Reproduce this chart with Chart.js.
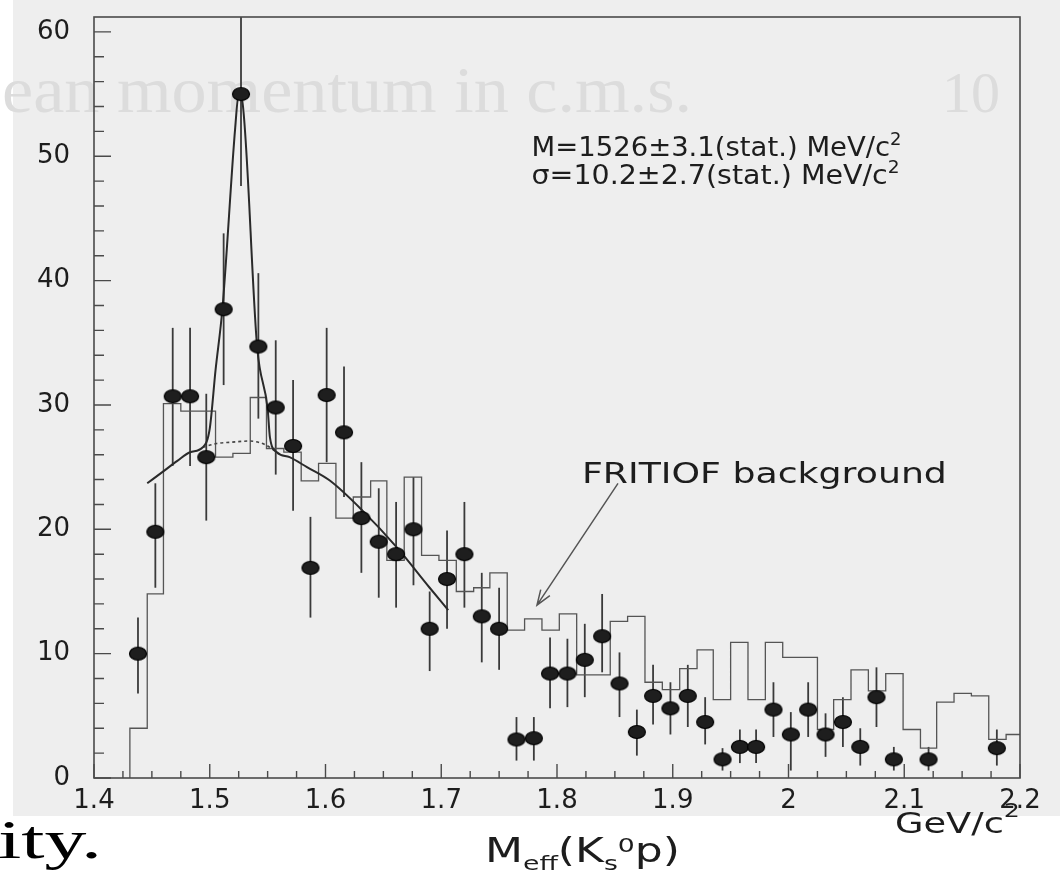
<!DOCTYPE html>
<html>
<head>
<meta charset="utf-8">
<title>M_eff(K0s p) spectrum</title>
<script src="https://cdn.jsdelivr.net/npm/chart.js@4.4.1/dist/chart.umd.min.js"></script>
<style>
  html, body { margin: 0; padding: 0; background: #fff; }
  #chart { display: block; }
</style>
</head>
<body>
<canvas id="chart" width="1063" height="871"></canvas>
<script>
// Measured spectrum: bin centres (GeV/c^2), counts, and error bar ends.
const massBins = [
  1.438, 1.453, 1.468, 1.483, 1.497, 1.512, 1.527, 1.542, 1.557, 1.572,
  1.587, 1.601, 1.616, 1.631, 1.646, 1.661, 1.676, 1.690, 1.705, 1.720,
  1.735, 1.750, 1.765, 1.780, 1.794, 1.809, 1.824, 1.839, 1.854, 1.869,
  1.883, 1.898, 1.913, 1.928, 1.943, 1.958, 1.972, 1.987, 2.002, 2.017,
  2.032, 2.047, 2.062, 2.076, 2.091, 2.121, 2.180
];
const counts = [
  10, 19.8, 30.7, 30.7, 25.8, 37.7, 55, 34.7, 29.8, 26.7,
  16.9, 30.8, 27.8, 20.9, 19.0, 18.0, 20.0, 12.0, 16.0, 18.0,
  13.0, 12.0, 3.1, 3.2, 8.4, 8.4, 9.5, 11.4, 7.6, 3.7,
  6.6, 5.6, 6.6, 4.5, 1.5, 2.5, 2.5, 5.5, 3.5, 5.5,
  3.5, 4.5, 2.5, 6.5, 1.5, 1.5, 2.4
];
const errHigh = [
  12.9, 23.7, 36.2, 36.2, 30.9, 43.8, 62.5, 40.6, 35.2, 32.0,
  21.0, 36.2, 33.1, 25.4, 23.3, 22.2, 24.2, 15.0, 19.9, 22.2,
  16.5, 15.3, 4.9, 4.9, 11.3, 11.2, 12.4, 14.8, 10.1, 5.5,
  9.1, 7.7, 9.1, 6.5, 2.4, 3.9, 3.9, 7.7, 5.3, 7.7,
  5.2, 6.5, 4.0, 8.9, 2.5, 2.5, 3.9
];
const errLow = [
  6.8, 15.3, 25.1, 25.1, 20.7, 31.6, 47.6, 28.9, 24.4, 21.5,
  12.9, 25.4, 22.6, 16.5, 14.5, 13.7, 15.5, 8.6, 12.0, 13.7,
  9.3, 8.7, 1.4, 1.4, 5.6, 5.7, 6.5, 8.5, 4.9, 1.8,
  4.3, 3.5, 4.1, 2.7, 0.6, 1.2, 1.2, 3.3, 0.6, 3.3,
  1.7, 2.5, 1.0, 4.1, 0.6, 0.6, 1.0
];

// FRITIOF background histogram: bin edges and contents.
const fritiofEdges = [
  1.431, 1.446, 1.460, 1.475, 1.490, 1.505, 1.520, 1.535, 1.549, 1.564,
  1.579, 1.594, 1.609, 1.624, 1.639, 1.653, 1.668, 1.683, 1.698, 1.713,
  1.728, 1.742, 1.757, 1.772, 1.787, 1.802, 1.817, 1.832, 1.846, 1.861,
  1.876, 1.891, 1.906, 1.921, 1.935, 1.950, 1.965, 1.980, 1.995, 2.010,
  2.025, 2.039, 2.054, 2.069, 2.084, 2.099, 2.114, 2.128, 2.143, 2.158,
  2.173, 2.188, 2.203
];
const fritiofCounts = [
  4.0, 14.8, 30.1, 29.5, 29.5, 25.8, 26.1, 30.6, 26.5, 26.2,
  23.9, 25.3, 20.9, 22.6, 23.9, 17.5, 24.2, 17.9, 17.5, 15.0,
  15.3, 16.5, 11.9, 12.8, 11.9, 13.2, 8.3, 8.3, 12.6, 13.0,
  7.7, 7.1, 8.8, 10.3, 6.3, 10.9, 6.3, 10.9, 9.7, 9.7,
  3.9, 6.3, 8.7, 7.0, 8.4, 3.9, 2.4, 6.1, 6.8, 6.6,
  3.1, 3.5
];

// Fitted curve (signal + background) and the background part under the peak.
const fitMass = [
  1.446, 1.459, 1.472, 1.483, 1.494, 1.500, 1.505, 1.511, 1.522, 1.525,
  1.528, 1.541, 1.550, 1.552, 1.558, 1.569, 1.584, 1.604, 1.632, 1.662,
  1.690, 1.706
];
const fitValues = [
  23.7, 24.6, 25.5, 26.2, 26.6, 28.1, 32.8, 37.8, 52.3, 55.0,
  54.5, 34.6, 29.7, 27.4, 26.2, 25.8, 25.0, 23.9, 21.5, 18.5,
  15.3, 13.5
];
const bgFitMass = [1.494, 1.506, 1.518, 1.535, 1.548, 1.558];
const bgFitValues = [26.6, 26.9, 27.0, 27.1, 26.8, 26.2];

// Where the in-plot labels sit, in data coordinates.
const labelSpots = {
  mass: { x: 1.778, y: 50.0 },
  sigma: { x: 1.778, y: 47.8 },
  fritiof: { x: 1.8215, y: 23.7 },
  arrowTail: { x: 1.8527, y: 23.7 },
  arrowTip: { x: 1.7827, y: 13.9 }
};

const INK = '#1d1d1d';
const SANS = '"DejaVu Sans", sans-serif';

function makeDot() {
  const c = document.createElement('canvas');
  c.width = 20;
  c.height = 16;
  const g = c.getContext('2d');
  g.beginPath();
  g.ellipse(10, 8, 8.5, 6.5, 0, 0, Math.PI * 2);
  g.fillStyle = '#1e1e1e';
  g.fill();
  g.lineWidth = 1.2;
  g.strokeStyle = '#000';
  g.stroke();
  return c;
}

// Draw a run of text pieces (with sub/superscripts), stretched to a given width.
function drawRuns(ctx, runs, x, baseline, targetWidth, family) {
  let natural = 0;
  runs.forEach(r => {
    ctx.font = `${r.weight || ''} ${r.size}px ${family}`;
    r.w = ctx.measureText(r.t).width;
    natural += r.w;
  });
  const sx = targetWidth ? targetWidth / natural : 1;
  ctx.save();
  ctx.translate(x, baseline);
  ctx.scale(sx, 1);
  let cx = 0;
  runs.forEach(r => {
    ctx.font = `${r.weight || ''} ${r.size}px ${family}`;
    ctx.fillText(r.t, cx, r.dy || 0);
    cx += r.w;
  });
  ctx.restore();
}

const paper = {
  id: 'paper',
  beforeDraw(chart) {
    const ctx = chart.ctx;
    ctx.save();
    ctx.fillStyle = '#ffffff';
    ctx.fillRect(0, 0, chart.width, chart.height);
    ctx.fillStyle = '#eeeeee';
    ctx.fillRect(13, 0, 1047, 816);
    // faint show-through from the other side of the page
    ctx.fillStyle = '#dcdcdc';
    ctx.textBaseline = 'alphabetic';
    drawRuns(ctx, [{ t: 'ean momentum in c.m.s.', size: 66 }], 2, 112, 690, '"Liberation Serif", serif');
    drawRuns(ctx, [{ t: '10', size: 58 }], 942, 112, 58, '"Liberation Serif", serif');
    ctx.restore();
  }
};

const errorBars = {
  id: 'errorBars',
  beforeDatasetsDraw(chart) {
    const { ctx, chartArea: a, scales: { x, y } } = chart;
    ctx.save();
    ctx.beginPath();
    ctx.rect(a.left, a.top, a.right - a.left, a.bottom - a.top);
    ctx.clip();
    ctx.strokeStyle = '#3a3a3a';
    ctx.lineWidth = 1.8;
    massBins.forEach((m, i) => {
      const px = x.getPixelForValue(m);
      ctx.beginPath();
      ctx.moveTo(px, y.getPixelForValue(errHigh[i]));
      ctx.lineTo(px, y.getPixelForValue(errLow[i]));
      ctx.stroke();
    });
    ctx.restore();
  }
};

const frameAndText = {
  id: 'frameAndText',
  afterDatasetsDraw(chart) {
    const { ctx, chartArea: a, scales: { x, y } } = chart;
    ctx.save();
    ctx.strokeStyle = '#4a4a4a';
    ctx.lineWidth = 1.6;
    ctx.strokeRect(a.left, a.top, a.right - a.left, a.bottom - a.top);

    // inner tick marks
    ctx.lineWidth = 1.4;
    ctx.beginPath();
    for (let v = 0; v <= 60; v += 2) {
      const py = y.getPixelForValue(v);
      ctx.moveTo(a.left, py);
      ctx.lineTo(a.left + (v % 10 === 0 ? 17 : 10), py);
    }
    for (let i = 0; i <= 32; i++) {
      const px = x.getPixelForValue(1.4 + i * 0.025);
      ctx.moveTo(px, a.bottom);
      ctx.lineTo(px, a.bottom - (i % 4 === 0 ? 14 : 7));
    }
    ctx.stroke();

    // arrow pointing at the background histogram
    const tx = x.getPixelForValue(labelSpots.arrowTail.x);
    const ty = y.getPixelForValue(labelSpots.arrowTail.y);
    const hx = x.getPixelForValue(labelSpots.arrowTip.x);
    const hy = y.getPixelForValue(labelSpots.arrowTip.y);
    const ang = Math.atan2(hy - ty, hx - tx);
    ctx.strokeStyle = '#555';
    ctx.lineWidth = 1.5;
    ctx.beginPath();
    ctx.moveTo(tx, ty);
    ctx.lineTo(hx, hy);
    ctx.moveTo(hx - 16 * Math.cos(ang - 0.35), hy - 16 * Math.sin(ang - 0.35));
    ctx.lineTo(hx, hy);
    ctx.lineTo(hx - 16 * Math.cos(ang + 0.35), hy - 16 * Math.sin(ang + 0.35));
    ctx.stroke();

    ctx.fillStyle = INK;
    ctx.textBaseline = 'alphabetic';
    drawRuns(ctx, [
      { t: 'M=1526\u00b13.1(stat.) MeV/c', size: 26 },
      { t: '2', size: 17, dy: -11 }
    ], x.getPixelForValue(labelSpots.mass.x), y.getPixelForValue(labelSpots.mass.y), 370, SANS);
    drawRuns(ctx, [
      { t: '\u03c3=10.2\u00b12.7(stat.) MeV/c', size: 26 },
      { t: '2', size: 17, dy: -11 }
    ], x.getPixelForValue(labelSpots.sigma.x), y.getPixelForValue(labelSpots.sigma.y), 368, SANS);
    drawRuns(ctx, [{ t: 'FRITIOF background', size: 29 }],
      x.getPixelForValue(labelSpots.fritiof.x), y.getPixelForValue(labelSpots.fritiof.y), 365, SANS);

    // axis titles below the plot
    drawRuns(ctx, [
      { t: 'GeV/c', size: 29 },
      { t: '2', size: 20, dy: -16 }
    ], 895, 833, 125, SANS);
    drawRuns(ctx, [
      { t: 'M', size: 33 },
      { t: 'eff', size: 20, dy: 8 },
      { t: '(K', size: 33 },
      { t: 's', size: 20, dy: 8 },
      { t: '0', size: 20, dy: -10 },
      { t: 'p)', size: 33 }
    ], 485, 862, 195, SANS);

    ctx.fillStyle = '#000';
    drawRuns(ctx, [{ t: 'ity.', size: 54 }], -2, 858, 104, '"Liberation Serif", serif');
    ctx.restore();
  }
};

const tickFont = { family: SANS, size: 26 };
// invisible tick marks: they only reserve the gap between axis and labels
const hiddenTicks = { display: true, drawOnChartArea: false, drawTicks: true, tickLength: 24, tickColor: 'rgba(0,0,0,0)' };

new Chart(document.getElementById('chart'), {
  type: 'scatter',
  data: {
    datasets: [
      {
        label: 'data',
        order: 0,
        data: massBins.map((m, i) => ({ x: m, y: counts[i] })),
        pointStyle: makeDot(),
        pointRadius: 8,
        showLine: false
      },
      {
        label: 'fit',
        type: 'line',
        order: 1,
        data: fitMass.map((m, i) => ({ x: m, y: fitValues[i] })),
        borderColor: '#2a2a2a',
        borderWidth: 2,
        pointRadius: 0,
        cubicInterpolationMode: 'monotone',
        fill: false
      },
      {
        label: 'fit background',
        type: 'line',
        order: 1,
        data: bgFitMass.map((m, i) => ({ x: m, y: bgFitValues[i] })),
        borderColor: '#444',
        borderWidth: 1.6,
        borderDash: [3, 3],
        pointRadius: 0,
        cubicInterpolationMode: 'monotone',
        fill: false
      },
      {
        label: 'FRITIOF background',
        type: 'line',
        order: 2,
        data: [{ x: fritiofEdges[0], y: 0 }]
          .concat(fritiofCounts.map((c, i) => ({ x: fritiofEdges[i], y: c })))
          .concat([{ x: fritiofEdges[fritiofEdges.length - 1], y: fritiofCounts[fritiofCounts.length - 1] }]),
        borderColor: '#555',
        borderWidth: 1.3,
        pointRadius: 0,
        stepped: true,
        fill: false
      }
    ]
  },
  options: {
    responsive: false,
    animation: false,
    events: [],
    layout: { padding: { top: 17, right: 43, left: 0, bottom: 0 } },
    plugins: {
      legend: { display: false },
      tooltip: { enabled: false }
    },
    scales: {
      x: {
        type: 'linear',
        min: 1.4,
        max: 2.2,
        grid: Object.assign({}, hiddenTicks, { tickLength: 8 }),
        border: { display: false },
        ticks: {
          stepSize: 0.1,
          padding: 0,
          autoSkip: false,
          maxRotation: 0,
          font: tickFont,
          color: INK,
          callback: v => String(Math.round(v * 10) / 10)
        },
        afterFit: s => { s.height = 93; }
      },
      y: {
        min: 0,
        max: 61.2,
        grid: hiddenTicks,
        border: { display: false },
        ticks: {
          stepSize: 10,
          includeBounds: false,
          padding: 0,
          font: tickFont,
          color: INK
        },
        afterFit: s => { s.width = 94; }
      }
    }
  },
  plugins: [paper, errorBars, frameAndText]
});
</script>
</body>
</html>
